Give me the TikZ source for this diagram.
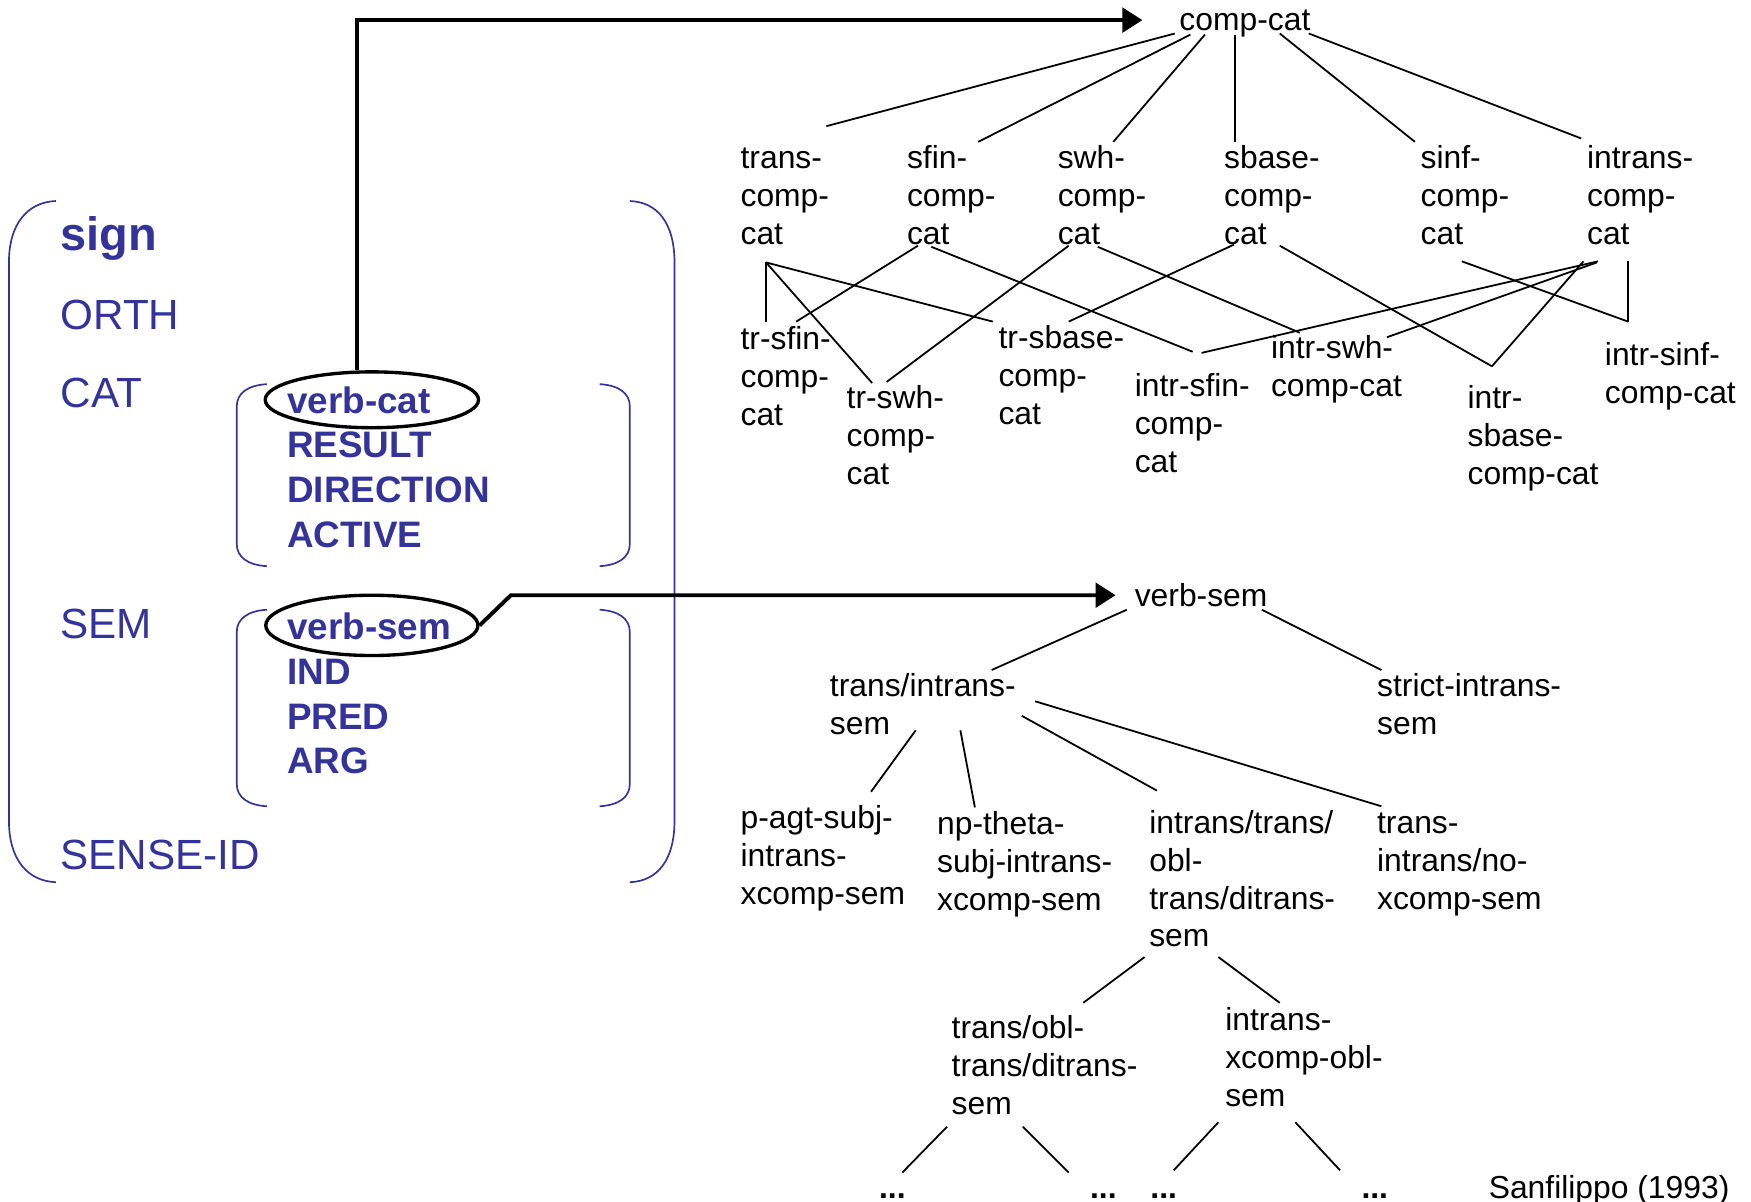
\documentclass[tikz,border=0pt]{standalone}
\usepackage{fontspec}
\setmainfont{Liberation Sans}
\usetikzlibrary{arrows.meta,shapes.geometric}
\definecolor{fsblue}{RGB}{51,51,153}
\newcommand{\mlines}[1]{\begin{tabular}[t]{@{}l@{}}#1\end{tabular}}
\begin{document}
\begin{tikzpicture}[x=1pt,y=-1pt,
  treelbl/.style={anchor=base west,inner sep=0pt,font=\fontsize{28.5}{34}\selectfont},
  dotlbl/.style={anchor=base west,inner sep=0pt,font=\bfseries\fontsize{28.5}{34}\selectfont},
  attr/.style={anchor=base west,inner sep=0pt,text=fsblue,font=\fontsize{37.8}{44}\selectfont},
  signlbl/.style={anchor=base west,inner sep=0pt,text=fsblue,font=\bfseries\fontsize{42}{50}\selectfont},
  feat/.style={anchor=base west,inner sep=0pt,text=fsblue,font=\bfseries\fontsize{33}{40}\selectfont},
  brk/.style={draw=fsblue,line width=1.5pt},
  edge/.style={line width=1.6pt},
  link/.style={line width=3.5pt,-{Triangle[length=18pt,width=22pt]}},
  oval/.style={draw,ellipse,line width=3pt,inner sep=0pt}
]
\useasboundingbox (0,0) rectangle (1568,1076);

% ---------- feature structure ----------
\draw[brk] (50,180) .. controls (25,181) and (8,200) .. (8,235) -- (8,735) .. controls (8,770) and (25,789) .. (50,790);
\draw[brk] (564,180) .. controls (589,181) and (604,200) .. (604,235) -- (604,735) .. controls (604,770) and (589,789) .. (564,790);
\draw[brk] (239,344) .. controls (222,345) and (212,352) .. (212,364) -- (212,487) .. controls (212,499) and (222,506) .. (239,507);
\draw[brk] (537,344) .. controls (554,345) and (564,352) .. (564,364) -- (564,487) .. controls (564,499) and (554,506) .. (537,507);
\draw[brk] (239,546) .. controls (222,547) and (212,554) .. (212,566) -- (212,702) .. controls (212,714) and (222,721) .. (239,722);
\draw[brk] (537,546) .. controls (554,547) and (564,554) .. (564,566) -- (564,702) .. controls (564,714) and (554,721) .. (537,722);

\node[signlbl] (sign) at (54,224) {sign};
\node[attr] (orth) at (54,295) {ORTH};
\node[attr] (cat) at (54,365) {CAT};
\node[attr] (sem) at (54,572) {SEM};
\node[attr] (senseid) at (54,779) {SENSE-ID};
\node[feat] (catfeat) at (257,370) {\mlines{verb-cat\\RESULT\\DIRECTION\\ACTIVE}};
\node[feat] (semfeat) at (257,573) {\mlines{verb-sem\\IND\\PRED\\ARG}};
\node[oval,minimum width=191pt,minimum height=50pt] (vcoval) at (333,358) {};
\node[oval,minimum width=190pt,minimum height=54pt] (vsoval) at (333,560) {};

% ---------- comp-cat hierarchy ----------
\node[treelbl] (compcat) at (1056,27) {comp-cat};
\node[treelbl] (a1) at (663,151) {\mlines{trans-\\comp-\\cat}};
\node[treelbl] (a2) at (812,151) {\mlines{sfin-\\comp-\\cat}};
\node[treelbl] (a3) at (947,151) {\mlines{swh-\\comp-\\cat}};
\node[treelbl] (a4) at (1096,151) {\mlines{sbase-\\comp-\\cat}};
\node[treelbl] (a5) at (1272,151) {\mlines{sinf-\\comp-\\cat}};
\node[treelbl] (a6) at (1421,151) {\mlines{intrans-\\comp-\\cat}};
\node[treelbl] (b1) at (663,313) {\mlines{tr-sfin-\\comp-\\cat}};
\node[treelbl] (b2) at (758,366) {\mlines{tr-swh-\\comp-\\cat}};
\node[treelbl] (b3) at (894,312) {\mlines{tr-sbase-\\comp-\\cat}};
\node[treelbl] (b4) at (1016,355) {\mlines{intr-sfin-\\comp-\\cat}};
\node[treelbl] (b5) at (1138,321) {\mlines{intr-swh-\\comp-cat}};
\node[treelbl] (b6) at (1314,366) {\mlines{intr-\\sbase-\\comp-cat}};
\node[treelbl] (b7) at (1437,327) {\mlines{intr-sinf-\\comp-cat}};

\draw[link] ([xshift=-13pt]vcoval.north) |- ([shift={(-33,-9)}]compcat.base west);

\draw[edge] ([shift={(-4,3)}]compcat.base west) -- ([shift={(77,-38)}]a1.base west);
\draw[edge] ([shift={(10,4)}]compcat.base west) -- ([shift={(64,-24)}]a2.base west);
\draw[edge] ([shift={(23,4)}]compcat.base west) -- ([shift={(50,-24)}]a3.base west);
\draw[edge] ([shift={(50,4)}]compcat.base west) -- ([shift={(10,-24)}]a4.base west);
\draw[edge] ([shift={(90,3)}]compcat.base west) -- ([shift={(-5,-24)}]a5.base west);
\draw[edge] ([shift={(116,3)}]compcat.base west) -- ([shift={(-5,-27)}]a6.base west);

\draw[edge] ([shift={(23,84)}]a1.base west) -- ([shift={(23,-25)}]b1.base west);
\draw[edge] ([shift={(23,84)}]a1.base west) -- ([shift={(23,-23)}]b2.base west);
\draw[edge] ([shift={(23,84)}]a1.base west) -- ([shift={(-5,-24)}]b3.base west);
\draw[edge] ([shift={(10,69)}]a2.base west) -- ([shift={(50,-25)}]b1.base west);
\draw[edge] ([shift={(22,70)}]a2.base west) -- ([shift={(52,-40)}]b4.base west);
\draw[edge] ([shift={(10,69)}]a3.base west) -- ([shift={(36,-24)}]b2.base west);
\draw[edge] ([shift={(36,70)}]a3.base west) -- ([shift={(26,-23)}]b5.base west);
\draw[edge] ([shift={(9,68)}]a4.base west) -- ([shift={(63,-24)}]b3.base west);
\draw[edge] ([shift={(50,69)}]a4.base west) -- ([shift={(22,-38)}]b6.base west);
\draw[edge] ([shift={(37,83)}]a5.base west) -- ([shift={(21,-39)}]b7.base west);
\draw[edge] ([shift={(37,83)}]a6.base west) -- ([shift={(21,-39)}]b7.base west);
\draw[edge] ([shift={(10,83)}]a6.base west) -- ([shift={(60,-39)}]b4.base west);
\draw[edge] ([shift={(9,84)}]a6.base west) -- ([shift={(104,-19)}]b5.base west);
\draw[edge] ([shift={(-3,83)}]a6.base west) -- ([shift={(22,-38)}]b6.base west);

% ---------- verb-sem hierarchy ----------
\node[treelbl] (verbsem) at (1016,543) {verb-sem};
\node[treelbl] (t1) at (743,624) {\mlines{trans/intrans-\\sem}};
\node[treelbl] (t2) at (1233,624) {\mlines{strict-intrans-\\sem}};
\node[treelbl] (u1) at (663,742) {\mlines{p-agt-subj-\\intrans-\\xcomp-sem}};
\node[treelbl] (u2) at (839,747) {\mlines{np-theta-\\subj-intrans-\\xcomp-sem}};
\node[treelbl] (u3) at (1029,746) {\mlines{intrans/trans/\\obl-\\trans/ditrans-\\sem}};
\node[treelbl] (u4) at (1233,746) {\mlines{trans-\\intrans/no-\\xcomp-sem}};
\node[treelbl] (w1) at (852,930) {\mlines{trans/obl-\\trans/ditrans-\\sem}};
\node[treelbl] (w2) at (1097,923) {\mlines{intrans-\\xcomp-obl-\\sem}};
\node[dotlbl] (d1) at (787,1073) {...};
\node[dotlbl] (d2) at (976,1073) {...};
\node[dotlbl] (d3) at (1030,1073) {...};
\node[dotlbl] (d4) at (1219,1073) {...};
\node[treelbl] (sanf) at (1333,1073) {Sanfilippo (1993)};

\draw[link] (vsoval.east) -- ++(28,-27) -- ([shift={(-17,-10)}]verbsem.base west);

\draw[edge] ([shift={(-7,3)}]verbsem.base west) -- ([shift={(145,-24)}]t1.base west);
\draw[edge] ([shift={(114,3)}]verbsem.base west) -- ([shift={(4,-24)}]t2.base west);
\draw[edge] ([shift={(77,30)}]t1.base west) -- ([shift={(117,-33)}]u1.base west);
\draw[edge] ([shift={(117,30)}]t1.base west) -- ([shift={(34,-24)}]u2.base west);
\draw[edge] ([shift={(172,17)}]t1.base west) -- ([shift={(7,-38)}]u3.base west);
\draw[edge] ([shift={(184,4)}]t1.base west) -- ([shift={(4,-24)}]u4.base west);
\draw[edge] ([shift={(-4,111)}]u3.base west) -- ([shift={(118,-32)}]w1.base west);
\draw[edge] ([shift={(62,111)}]u3.base west) -- ([shift={(49,-25)}]w2.base west);
\draw[edge] ([shift={(-4,79)}]w1.base west) -- ([shift={(21,-23)}]d1.base west);
\draw[edge] ([shift={(64,79)}]w1.base west) -- ([shift={(-19,-23)}]d2.base west);
\draw[edge] ([shift={(-6,82)}]w2.base west) -- ([shift={(21,-25)}]d3.base west);
\draw[edge] ([shift={(63,82)}]w2.base west) -- ([shift={(-19,-25)}]d4.base west);
\end{tikzpicture}
\end{document}
